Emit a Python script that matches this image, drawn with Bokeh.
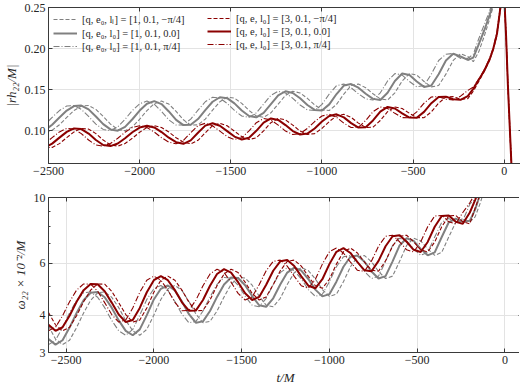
import numpy as np
from bokeh.plotting import figure
from bokeh.layouts import column
from bokeh.models import Range1d, FixedTicker, LinearAxis, LogAxis, Legend, LegendItem
from bokeh.embed import file_html
from bokeh.resources import INLINE

NAN = float("nan")

# ---------------- data ----------------
T_GRID = [-2600, -2560, -2520, -2480, -2440, -2400, -2360, -2320, -2280, -2240,
          -2200, -2160, -2120, -2080, -2040, -2000, -1960, -1920, -1880, -1840,
          -1800, -1760, -1720, -1680, -1640, -1600, -1560, -1520, -1480, -1440,
          -1400, -1360, -1320, -1280, -1240, -1200, -1160, -1120, -1080, -1040,
          -1000, -960, -920, -880, -840, -800, -760, -720, -680, -640,
          -600, -560, -520, -480, -440, -400, -360, -320, -280, -240,
          -200]
T_TAIL_TOP = [-170, -140, -110, -80, -60, -40, -20, -10, 0, 10, 20, 40, 60]
T_TAIL_BOT = [-170, -140, -110, -80]
T_TOP = T_GRID + T_TAIL_TOP
T_BOT = T_GRID + T_TAIL_BOT

# |r h22 / M|
AMP_GRAY_M = [0.108, 0.101, 0.098, 0.1005, 0.1072, 0.1161, 0.1245, 0.130, 0.1306, 0.1259,
              0.1173, 0.108, 0.1015, 0.1000, 0.1046, 0.1139, 0.1245, 0.1328, 0.136, 0.1324,
              0.1234, 0.1132, 0.1068, 0.1071, 0.1141, 0.1249, 0.1352, 0.1407, 0.1396, 0.1332,
              0.1246, 0.1179, 0.1162, 0.1217, 0.1324, 0.143, 0.148, 0.1459, 0.1394, 0.1313,
              0.1253, 0.1245, 0.132, 0.1446, 0.1549, 0.1567, 0.1523, 0.1449, 0.1387, 0.1373,
              0.1461, 0.1605, 0.1696, 0.1677, 0.1599, 0.1533, 0.155, 0.1688, 0.1855, 0.1936,
              0.1903,
              0.184, 0.196, 0.215, 0.236, 0.252, 0.272, 0.30, 0.32, NAN, NAN, NAN, NAN, NAN]
AMP_GRAY_0 = [0.101, 0.098, 0.1005, 0.1072, 0.1161, 0.1245, 0.130, 0.1306, 0.1259, 0.1173,
              0.108, 0.1015, 0.1000, 0.1046, 0.1139, 0.1245, 0.1328, 0.136, 0.1324, 0.1234,
              0.1132, 0.1068, 0.1071, 0.1141, 0.1249, 0.1352, 0.1407, 0.1396, 0.1332, 0.1246,
              0.1179, 0.1162, 0.1217, 0.1324, 0.143, 0.148, 0.1459, 0.1394, 0.1313, 0.1253,
              0.1245, 0.132, 0.1446, 0.1549, 0.1567, 0.1523, 0.1449, 0.1387, 0.1373, 0.1461,
              0.1605, 0.1696, 0.1677, 0.1599, 0.1533, 0.155, 0.1688, 0.1855, 0.1936, 0.1903,
              0.1861,
              0.189, 0.205, 0.222, 0.241, 0.256, 0.275, 0.30, 0.32, NAN, NAN, NAN, NAN, NAN]
AMP_GRAY_P = [0.098, 0.1005, 0.1072, 0.1161, 0.1245, 0.130, 0.1306, 0.1259, 0.1173, 0.108,
              0.1015, 0.1000, 0.1046, 0.1139, 0.1245, 0.1328, 0.136, 0.1324, 0.1234, 0.1132,
              0.1068, 0.1071, 0.1141, 0.1249, 0.1352, 0.1407, 0.1396, 0.1332, 0.1246, 0.1179,
              0.1162, 0.1217, 0.1324, 0.143, 0.148, 0.1459, 0.1394, 0.1313, 0.1253, 0.1245,
              0.132, 0.1446, 0.1549, 0.1567, 0.1523, 0.1449, 0.1387, 0.1373, 0.1461, 0.1605,
              0.1696, 0.1677, 0.1599, 0.1533, 0.155, 0.1688, 0.1855, 0.193, 0.194, 0.188,
              0.188,
              0.193, 0.212, 0.229, 0.246, 0.26, 0.28, 0.305, 0.325, NAN, NAN, NAN, NAN, NAN]
AMP_RED_M = [0.0904, 0.0838, 0.0795, 0.0796, 0.0842, 0.0915, 0.0985, 0.1027, 0.1019, 0.0964,
             0.0886, 0.0825, 0.0812, 0.0843, 0.0907, 0.0981, 0.1038, 0.106, 0.1039, 0.0983,
             0.0914, 0.086, 0.084, 0.0882, 0.0974, 0.1061, 0.109, 0.1059, 0.0994, 0.0928,
             0.0892, 0.0913, 0.0998, 0.1097, 0.1149, 0.1131, 0.1068, 0.0995, 0.0953, 0.0964,
             0.1027, 0.1111, 0.1179, 0.1199, 0.1162, 0.1092, 0.1038, 0.1042, 0.1124, 0.1231,
             0.1289, 0.127, 0.1211, 0.1159, 0.1158, 0.1229, 0.1335, 0.141, 0.1414, 0.1382,
             0.139,
             0.148, 0.160, 0.172, 0.186, 0.199, 0.216, 0.25, 0.27, 0.26, 0.213, 0.153, 0.054, 0.025]
AMP_RED_0 = [0.0838, 0.0795, 0.0796, 0.0842, 0.0915, 0.0985, 0.1027, 0.1019, 0.0964, 0.0886,
             0.0825, 0.0812, 0.0843, 0.0907, 0.0981, 0.1038, 0.106, 0.1039, 0.0983, 0.0914,
             0.086, 0.084, 0.0882, 0.0974, 0.1061, 0.109, 0.1059, 0.0994, 0.0928, 0.0892,
             0.0913, 0.0998, 0.1097, 0.1149, 0.1131, 0.1068, 0.0995, 0.0953, 0.0964, 0.1027,
             0.1111, 0.1179, 0.1199, 0.1162, 0.1092, 0.1038, 0.1042, 0.1124, 0.1231, 0.1289,
             0.127, 0.1211, 0.1159, 0.1158, 0.1229, 0.1335, 0.141, 0.1414, 0.1382, 0.1375,
             0.142,
             0.151, 0.162, 0.173, 0.187, 0.200, 0.218, 0.252, 0.272, 0.262, 0.215, 0.155, 0.055, 0.025]
AMP_RED_P = [0.0795, 0.0796, 0.0842, 0.0915, 0.0985, 0.1027, 0.1019, 0.0964, 0.0886, 0.0825,
             0.0812, 0.0843, 0.0907, 0.0981, 0.1038, 0.106, 0.1039, 0.0983, 0.0914, 0.086,
             0.084, 0.0882, 0.0974, 0.1061, 0.109, 0.1059, 0.0994, 0.0928, 0.0892, 0.0913,
             0.0998, 0.1097, 0.1149, 0.1131, 0.1068, 0.0995, 0.0953, 0.0964, 0.1027, 0.1111,
             0.1179, 0.1199, 0.1162, 0.1092, 0.1038, 0.1042, 0.1124, 0.1231, 0.1289, 0.127,
             0.1211, 0.1159, 0.1158, 0.1229, 0.1335, 0.141, 0.1414, 0.1382, 0.1375, 0.142,
             0.149,
             0.153, 0.163, 0.174, 0.188, 0.201, 0.220, 0.254, 0.274, 0.264, 0.217, 0.157, 0.056, 0.025]

# omega22 x 10^-2 / M
FREQ_GRAY_M = [3.69, 3.33, 3.19, 3.30, 3.64, 4.08, 4.50, 4.77, 4.80, 4.61,
               4.25, 3.85, 3.55, 3.43, 3.59, 4.01, 4.53, 4.92, 5.05, 4.86,
               4.46, 4.04, 3.78, 3.82, 4.14, 4.62, 5.09, 5.37, 5.35, 5.06,
               4.65, 4.33, 4.28, 4.57, 5.09, 5.58, 5.80, 5.67, 5.31, 4.89,
               4.64, 4.72, 5.20, 5.84, 6.31, 6.37, 6.07, 5.63, 5.33, 5.43,
               6.09, 6.89, 7.29, 7.14, 6.71, 6.38, 6.53, 7.36, 8.25, 8.49,
               8.28,
               8.6, 9.6, 11.0, 12.6]
FREQ_GRAY_0 = [3.33, 3.19, 3.30, 3.64, 4.08, 4.50, 4.77, 4.80, 4.61, 4.25,
               3.85, 3.55, 3.43, 3.59, 4.01, 4.53, 4.92, 5.05, 4.86, 4.46,
               4.04, 3.78, 3.82, 4.14, 4.62, 5.09, 5.37, 5.35, 5.06, 4.65,
               4.33, 4.28, 4.57, 5.09, 5.58, 5.80, 5.67, 5.31, 4.89, 4.64,
               4.72, 5.20, 5.84, 6.31, 6.37, 6.07, 5.63, 5.33, 5.43, 6.09,
               6.89, 7.29, 7.14, 6.71, 6.38, 6.53, 7.36, 8.25, 8.49, 8.28,
               8.35,
               9.1, 10.3, 11.6, 13.2]
FREQ_GRAY_P = [3.19, 3.30, 3.64, 4.08, 4.50, 4.77, 4.80, 4.61, 4.25, 3.85,
               3.55, 3.43, 3.59, 4.01, 4.53, 4.92, 5.05, 4.86, 4.46, 4.04,
               3.78, 3.82, 4.14, 4.62, 5.09, 5.37, 5.35, 5.06, 4.65, 4.33,
               4.28, 4.57, 5.09, 5.58, 5.80, 5.67, 5.31, 4.89, 4.64, 4.72,
               5.20, 5.84, 6.31, 6.37, 6.07, 5.63, 5.33, 5.43, 6.09, 6.89,
               7.29, 7.14, 6.71, 6.38, 6.53, 7.36, 8.25, 8.49, 8.28, 8.35,
               9.5,
               9.9, 11.0, 12.3, 13.9]
FREQ_RED_M = [4.09, 3.72, 3.55, 3.65, 3.99, 4.45, 4.87, 5.11, 5.10, 4.83,
              4.42, 4.03, 3.80, 3.86, 4.24, 4.79, 5.26, 5.43, 5.26, 4.87,
              4.43, 4.15, 4.16, 4.51, 5.04, 5.52, 5.73, 5.58, 5.18, 4.75,
              4.51, 4.62, 5.08, 5.66, 6.09, 6.15, 5.87, 5.42, 5.04, 4.94,
              5.30, 5.96, 6.56, 6.75, 6.50, 6.05, 5.68, 5.64, 6.11, 6.85,
              7.40, 7.46, 7.09, 6.66, 6.55, 7.08, 7.97, 8.66, 8.70, 8.28,
              8.15,
              9.2, 10.3, 11.6, 13.2]
FREQ_RED_0 = [3.72, 3.55, 3.65, 3.99, 4.45, 4.87, 5.11, 5.10, 4.83, 4.42,
              4.03, 3.80, 3.86, 4.24, 4.79, 5.26, 5.43, 5.26, 4.87, 4.43,
              4.15, 4.16, 4.51, 5.04, 5.52, 5.73, 5.58, 5.18, 4.75, 4.51,
              4.62, 5.08, 5.66, 6.09, 6.15, 5.87, 5.42, 5.04, 4.94, 5.30,
              5.96, 6.56, 6.75, 6.50, 6.05, 5.68, 5.64, 6.11, 6.85, 7.40,
              7.46, 7.09, 6.66, 6.55, 7.08, 7.97, 8.66, 8.70, 8.28, 8.15,
              8.9,
              9.8, 10.9, 12.2, 13.8]
FREQ_RED_P = [3.55, 3.65, 3.99, 4.45, 4.87, 5.11, 5.10, 4.83, 4.42, 4.03,
              3.80, 3.86, 4.24, 4.79, 5.26, 5.43, 5.26, 4.87, 4.43, 4.15,
              4.16, 4.51, 5.04, 5.52, 5.73, 5.58, 5.18, 4.75, 4.51, 4.62,
              5.08, 5.66, 6.09, 6.15, 5.87, 5.42, 5.04, 4.94, 5.30, 5.96,
              6.56, 6.75, 6.50, 6.05, 5.68, 5.64, 6.11, 6.85, 7.40, 7.46,
              7.09, 6.66, 6.55, 7.08, 7.97, 8.66, 8.70, 8.28, 8.15, 8.9,
              9.6,
              10.3, 11.4, 12.6, 14.2]

LABELS_GRAY = ["[q, e\u2080, l\u2097] = [1, 0.1, \u2212\u03c0/4]",
               "[q, e\u2080, l\u2080] = [1, 0.1, 0.0]",
               "[q, e\u2080, l\u2080] = [1, 0.1, \u03c0/4]"]
LABELS_RED = ["[q, e, l\u2080] = [3, 0.1, \u2212\u03c0/4]",
              "[q, e, l\u2080] = [3, 0.1, 0.0]",
              "[q, e, l\u2080] = [3, 0.1, \u03c0/4]"]

X_TICKS = [-2500, -2000, -1500, -1000, -500, 0]
X_TICK_LABELS = ["\u22122500", "\u22122000", "\u22121500", "\u22121000", "\u2212500", "0"]
AMP_TICKS = [0.10, 0.15, 0.20, 0.25]
AMP_TICK_LABELS = ["0.10", "0.15", "0.20", "0.25"]
FREQ_TICKS = [3, 4, 6, 10]
FREQ_TICK_LABELS = ["3", "4", "6", "10"]
FREQ_MINOR = [5, 7, 8, 9]

# ---------------- style ----------------
FONT = "Liberation Serif"
TXT = "#262626"
AXC = "#3a3a3a"
GRAY = "#808080"
RED = "#8b0000"
STYLES = [("4 2", 1.1), ("solid", 2.0), ("6 2 1 2", 1.1)]
FW = 474
FH_TOP, FH_BOT = 156, 155


def style_axis(ax, ticker, labels=None, show=True, minor=None):
    ax.ticker = FixedTicker(ticks=ticker, minor_ticks=minor or [])
    ax.major_tick_in = 4
    ax.major_tick_out = 0
    ax.minor_tick_in = 2
    ax.minor_tick_out = 0
    ax.major_tick_line_color = AXC
    ax.minor_tick_line_color = AXC
    ax.axis_line_color = AXC
    ax.major_label_text_font = FONT
    ax.major_label_text_font_size = "12px"
    ax.major_label_text_color = TXT
    ax.major_label_standoff = 3
    ax.axis_label_text_font = FONT
    ax.axis_label_text_font_style = "italic"
    ax.axis_label_text_font_size = "13px"
    ax.axis_label_text_color = TXT
    ax.axis_label_standoff = 3
    if labels is not None:
        ax.major_label_overrides = {t: s for t, s in zip(ticker, labels)}
    if not show:
        # tick marks only (mirror axis), no labels drawn
        ax.major_label_text_color = None
        ax.major_label_text_font_size = "1px"
        ax.major_label_standoff = 0


def base_style(p):
    p.outline_line_color = AXC
    p.outline_line_width = 1
    p.background_fill_color = "white"
    p.border_fill_color = "white"
    for g in p.grid:
        g.grid_line_color = "#e3e3e3"
        g.grid_line_width = 1


# ---------------- top panel ----------------
p1 = figure(frame_width=FW, frame_height=FH_TOP,
            x_range=Range1d(-2500, 100), y_range=Range1d(0.06, 0.25),
            output_backend="svg", toolbar_location=None,
            min_border_left=43, min_border_right=2, min_border_top=7, min_border_bottom=20)
style_axis(p1.xaxis[0], X_TICKS, X_TICK_LABELS)
style_axis(p1.yaxis[0], AMP_TICKS, AMP_TICK_LABELS)
p1.yaxis[0].axis_label = "|rh\u2082\u2082/M|"
for place, tk in (("right", AMP_TICKS), ("above", X_TICKS)):
    ax = LinearAxis()
    style_axis(ax, tk, show=False)
    p1.add_layout(ax, place)
base_style(p1)

gray_amp = [AMP_GRAY_M, AMP_GRAY_0, AMP_GRAY_P]
red_amp = [AMP_RED_M, AMP_RED_0, AMP_RED_P]
rg, rr = [], []
for ys, (dash, lw) in zip(gray_amp, STYLES):
    rg.append(p1.line(np.array(T_TOP, float), np.array(ys, float), line_color=GRAY,
                      line_width=lw, line_dash=dash))
for ys, (dash, lw) in zip(red_amp, STYLES):
    rr.append(p1.line(np.array(T_TOP, float), np.array(ys, float), line_color=RED,
                      line_width=lw, line_dash=dash))


def make_legend(items, location):
    return Legend(items=items, location=location, margin=5, padding=0, spacing=1,
                  label_height=12, glyph_height=12, glyph_width=24, label_standoff=5,
                  label_text_font=FONT, label_text_font_size="10.5px",
                  label_text_color=TXT, background_fill_alpha=0,
                  border_line_color=None)


leg1 = make_legend([LegendItem(label=l, renderers=[r]) for l, r in zip(LABELS_GRAY, rg)],
                   "top_left")
leg2 = make_legend([LegendItem(label=l, renderers=[r]) for l, r in zip(LABELS_RED, rr)],
                   (159, FH_TOP - 5 - 38))
leg2.margin = 0
p1.add_layout(leg1)
p1.add_layout(leg2)

# ---------------- bottom panel ----------------
p2 = figure(frame_width=FW, frame_height=FH_BOT, y_axis_type="log",
            x_range=Range1d(-2600, 100), y_range=Range1d(3, 10),
            output_backend="svg", toolbar_location=None,
            min_border_left=43, min_border_right=2, min_border_top=14, min_border_bottom=31)
style_axis(p2.xaxis[0], X_TICKS, X_TICK_LABELS)
p2.xaxis[0].axis_label = "t/M"
style_axis(p2.yaxis[0], FREQ_TICKS, FREQ_TICK_LABELS, minor=FREQ_MINOR)
p2.yaxis[0].axis_label = "\u03c9\u2082\u2082 \u00d7 10\u207b\u00b2/M"
ax = LogAxis()
style_axis(ax, FREQ_TICKS, show=False, minor=FREQ_MINOR)
p2.add_layout(ax, "right")
ax = LinearAxis()
style_axis(ax, X_TICKS, show=False)
p2.add_layout(ax, "above")
base_style(p2)

for ys, (dash, lw) in zip([FREQ_GRAY_M, FREQ_GRAY_0, FREQ_GRAY_P], STYLES):
    p2.line(np.array(T_BOT, float), np.array(ys, float), line_color=GRAY,
            line_width=lw, line_dash=dash)
for ys, (dash, lw) in zip([FREQ_RED_M, FREQ_RED_0, FREQ_RED_P], STYLES):
    p2.line(np.array(T_BOT, float), np.array(ys, float), line_color=RED,
            line_width=lw, line_dash=dash)

layout = column(p1, p2, spacing=0)
open("out.html", "w").write(file_html(layout, INLINE))
